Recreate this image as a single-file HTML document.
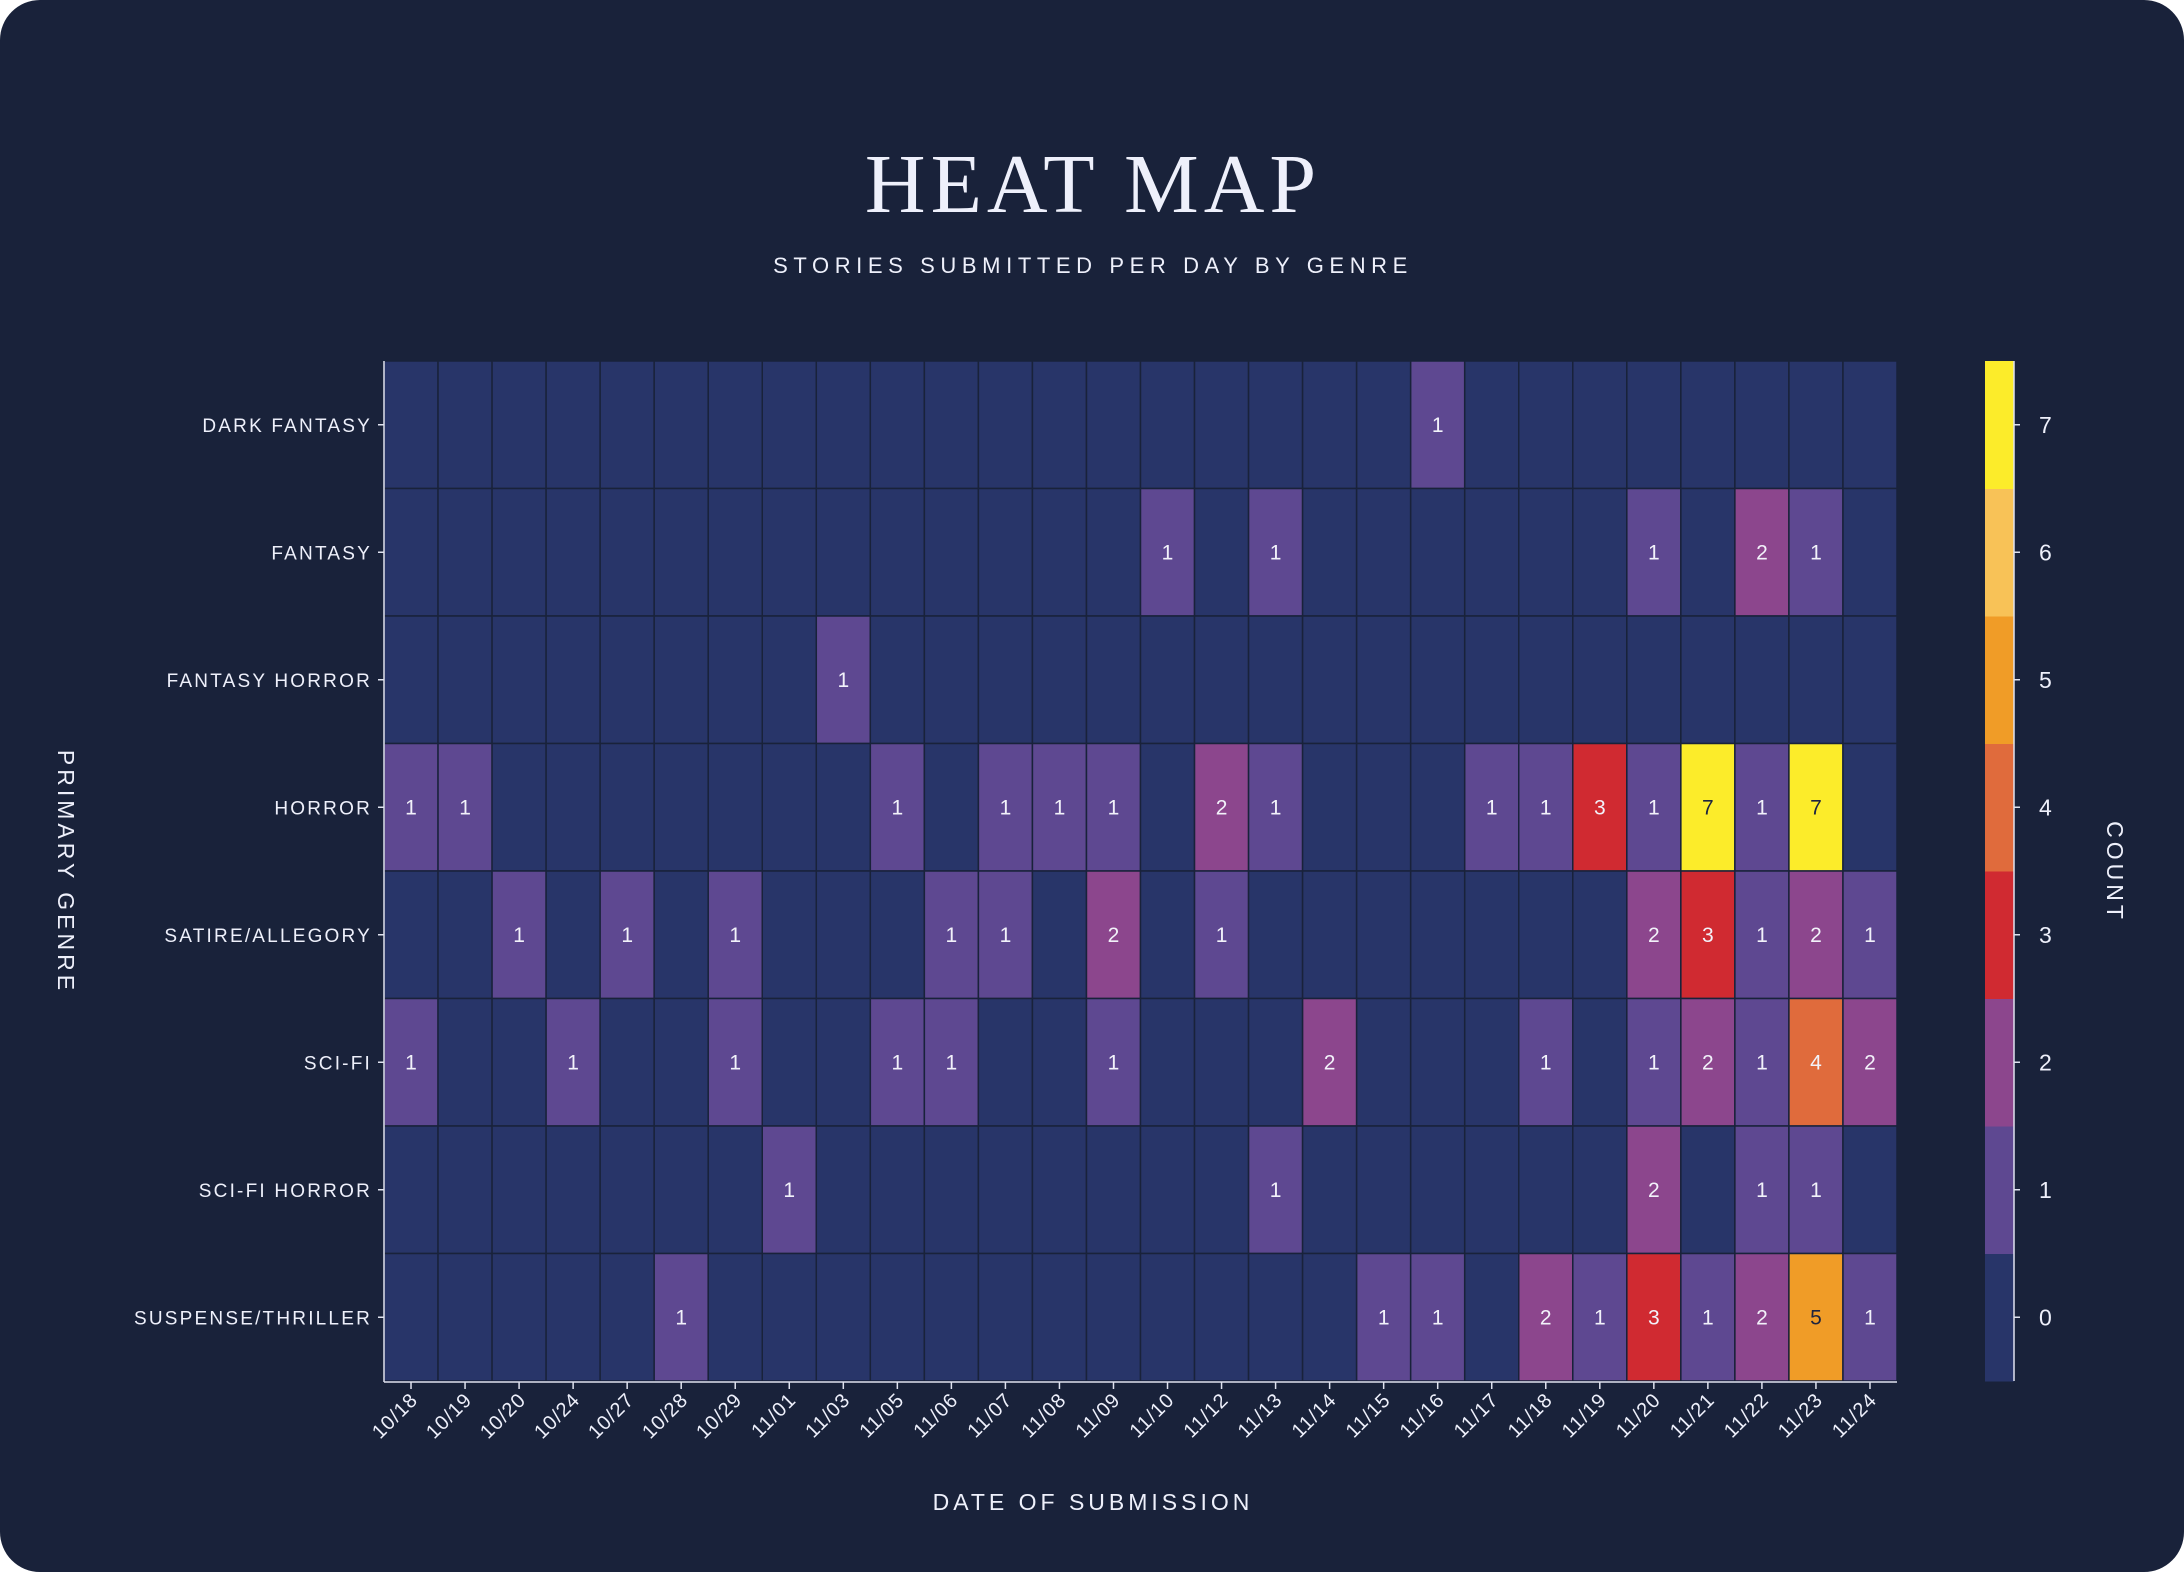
<!DOCTYPE html>
<html><head><meta charset="utf-8">
<style>
html,body{margin:0;padding:0;background:#ffffff;}
#card{position:absolute;left:0;top:0;width:2184px;height:1572px;background:#19223a;border-radius:40px;overflow:hidden;}
svg text{font-family:"Liberation Sans",sans-serif;}
</style></head>
<body>
<div id="card">
<svg id="chart" width="2184" height="1572">
<text x="1093" y="212" text-anchor="middle" fill="#eef0fb" style="font-family:'Liberation Serif',serif;font-size:84px;letter-spacing:5px">HEAT MAP</text>
<text x="1093" y="273" text-anchor="middle" fill="#eef0fb" style="font-size:22px;letter-spacing:5.6px">STORIES SUBMITTED PER DAY BY GENRE</text>
<text x="1093" y="1510" text-anchor="middle" fill="#eef0fb" style="font-size:23px;letter-spacing:4px">DATE OF SUBMISSION</text>
<text transform="translate(58,872) rotate(90)" text-anchor="middle" fill="#eef0fb" style="font-size:23px;letter-spacing:4px">PRIMARY GENRE</text>
<text transform="translate(2107,872) rotate(90)" text-anchor="middle" fill="#eef0fb" style="font-size:23px;letter-spacing:4px">COUNT</text>
<g id="cells"></g><g id="axes"></g><g id="cbar"></g>
</svg>
</div>
<script>
const dates = ["10/18","10/19","10/20","10/24","10/27","10/28","10/29","11/01","11/03","11/05","11/06","11/07","11/08","11/09","11/10","11/12","11/13","11/14","11/15","11/16","11/17","11/18","11/19","11/20","11/21","11/22","11/23","11/24"];
const genres = ["DARK FANTASY","FANTASY","FANTASY HORROR","HORROR","SATIRE/ALLEGORY","SCI-FI","SCI-FI HORROR","SUSPENSE/THRILLER"];
const rowDarkFantasy = [0,0,0,0,0,0,0,0,0,0,0,0,0,0,0,0,0,0,0,1,0,0,0,0,0,0,0,0];
const rowFantasy = [0,0,0,0,0,0,0,0,0,0,0,0,0,0,1,0,1,0,0,0,0,0,0,1,0,2,1,0];
const rowFantasyHorror = [0,0,0,0,0,0,0,0,1,0,0,0,0,0,0,0,0,0,0,0,0,0,0,0,0,0,0,0];
const rowHorror = [1,1,0,0,0,0,0,0,0,1,0,1,1,1,0,2,1,0,0,0,1,1,3,1,7,1,7,0];
const rowSatire = [0,0,1,0,1,0,1,0,0,0,1,1,0,2,0,1,0,0,0,0,0,0,0,2,3,1,2,1];
const rowSciFi = [1,0,0,1,0,0,1,0,0,1,1,0,0,1,0,0,0,2,0,0,0,1,0,1,2,1,4,2];
const rowSciFiHorror = [0,0,0,0,0,0,0,1,0,0,0,0,0,0,0,0,1,0,0,0,0,0,0,2,0,1,1,0];
const rowSuspense = [0,0,0,0,0,1,0,0,0,0,0,0,0,0,0,0,0,0,1,1,0,2,1,3,1,2,5,1];
const matrix = [rowDarkFantasy,rowFantasy,rowFantasyHorror,rowHorror,rowSatire,rowSciFi,rowSciFiHorror,rowSuspense];
const levels = [0,1,2,3,4,5,6,7];
const palette = ["#283569","#5e4891","#8c468d","#d02a31","#e06b3c","#f09c27","#f8c257","#fcec2a"];

const NS="http://www.w3.org/2000/svg";
const L=384,R=1897,T=361,B=1381;
const colW=(R-L)/dates.length, rowH=(B-T)/genres.length;
const xPos=i=>L+i*colW, yPos=j=>T+j*rowH;
const cMin=-0.5,cMax=7.5, cbY=v=>B-(v-cMin)/(cMax-cMin)*(B-T);
function mk(tag,attrs,parent,txt){const e=document.createElementNS(NS,tag);for(const k in attrs)e.setAttribute(k,attrs[k]);if(txt!==undefined)e.textContent=txt;parent.appendChild(e);return e;}
const cells=document.getElementById('cells'), axes=document.getElementById('axes'), cbar=document.getElementById('cbar');
matrix.forEach((row,j)=>row.forEach((v,i)=>{
  const r=mk('rect',{x:xPos(i),y:yPos(j),width:colW,height:rowH,fill:palette[v],stroke:"#19223a","stroke-width":1.5},cells);
  
  
  if(v>0){
    const t=mk('text',{x:xPos(i)+colW/2,y:yPos(j)+rowH/2+7,"text-anchor":"middle",fill:(v>=5?"#1d2440":"#f2f2fa"),style:"font-size:21px"},cells,String(v));
    
    
  }
}));
mk('line',{x1:L,y1:T,x2:L,y2:B+1,stroke:"#dfe2ef","stroke-width":1.5},axes);
mk('line',{x1:L,y1:B+1,x2:R,y2:B+1,stroke:"#dfe2ef","stroke-width":1.5},axes);
genres.forEach((g,j)=>{
  const y=yPos(j)+rowH/2;
  mk('line',{x1:L-6,y1:y,x2:L,y2:y,stroke:"#dfe2ef","stroke-width":1.5},axes);
  const t=mk('text',{x:L-12,y:y+7,"text-anchor":"end",fill:"#eef0fb",style:"font-size:19px;letter-spacing:2.2px"},axes,g);
  
  
});
dates.forEach((d,i)=>{
  const x=xPos(i)+colW/2;
  mk('line',{x1:x,y1:B+1,x2:x,y2:B+8,stroke:"#dfe2ef","stroke-width":1.5},axes);
  const t=mk('text',{transform:`translate(${x+8},${B+20}) rotate(-45)`,"text-anchor":"end",fill:"#eef0fb",style:"font-size:20px;letter-spacing:1px"},axes,d);
  
  
});
const cbL=1985,cbW=29;
levels.forEach(v=>{
  const r=mk('rect',{x:cbL,y:cbY(v+0.5),width:cbW,height:cbY(v-0.5)-cbY(v+0.5)+0.5,fill:palette[v]},cbar);
  
  
  mk('line',{x1:cbL+cbW,y1:cbY(v),x2:cbL+cbW+6,y2:cbY(v),stroke:"#dfe2ef","stroke-width":1.5},cbar);
  const t=mk('text',{x:cbL+cbW+25,y:cbY(v)+8,fill:"#eef0fb",style:"font-size:23px"},cbar,String(v));
  
  
});
mk('line',{x1:cbL+cbW,y1:T,x2:cbL+cbW,y2:B,stroke:"#dfe2ef","stroke-width":1.5},cbar);
</script>
</body></html>
